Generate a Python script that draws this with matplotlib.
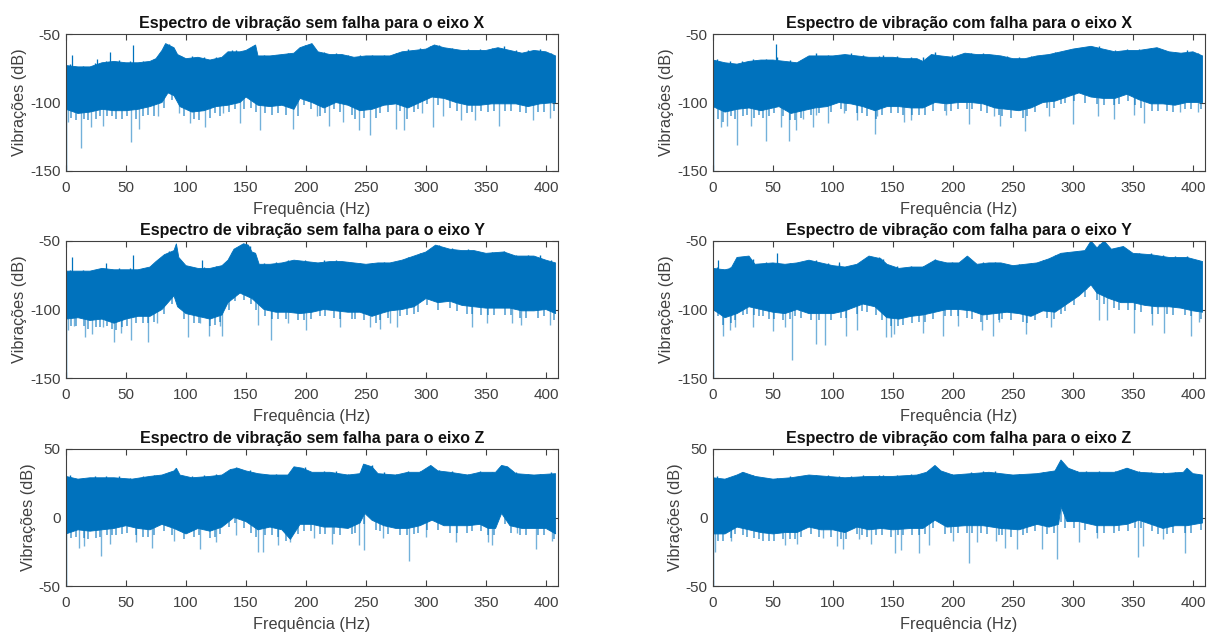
import matplotlib
matplotlib.use("Agg")
import matplotlib.pyplot as plt

plt.rcParams["font.family"] = ["Liberation Sans", "DejaVu Sans"]
plt.rcParams["axes.unicode_minus"] = False

BLUE = "#0072BD"
GREY = "#404040"

# frequencias das pequenas irregularidades nas bordas do espectro
top_fuzz_f = [3, 14, 24, 33, 44, 53, 64, 73, 86, 96, 105, 115, 125, 138, 142, 153, 165, 175, 185, 199, 215, 225, 235, 245, 255, 265, 275, 285, 295, 303, 311, 322, 335, 345, 355, 365, 375, 385, 395, 404]
low_fuzz_f = [4, 8, 15, 18, 25, 28, 34, 38, 42, 47, 51, 58, 64, 68, 73, 82, 88, 98, 107, 111, 120, 124, 128, 136, 141, 148, 154, 158, 166, 172, 177, 183, 193, 198, 204, 212, 216, 223, 228, 238, 241, 248, 258, 262, 268, 278, 284, 290, 293, 301, 310, 320, 326, 334, 338, 346, 352, 357, 366, 371, 378, 383, 393, 398, 407]

# eixo X sem falha
xs_top_f = [0, 10, 20, 30, 40, 50, 60, 70, 75, 80, 83, 90, 93, 100, 110, 120, 130, 135, 145, 150, 158, 160, 170, 180, 190, 195, 205, 210, 220, 230, 240, 250, 260, 270, 280, 290, 300, 307, 315, 330, 340, 350, 360, 370, 380, 390, 400, 408]
xs_top = [-73, -74, -74, -71, -70, -71, -71, -70, -68, -62, -57, -60, -65, -68, -67, -69, -67, -63, -63, -62, -58, -66, -66, -65, -64, -60, -57, -63, -65, -65, -67, -66, -66, -66, -63, -62, -61, -58, -60, -62, -62, -62, -60, -62, -64, -62, -63, -66]
xs_low_f = [0, 10, 20, 30, 40, 50, 60, 70, 80, 85, 90, 95, 105, 115, 125, 135, 145, 150, 160, 170, 180, 190, 195, 205, 215, 225, 235, 245, 255, 265, 275, 285, 295, 305, 315, 325, 335, 345, 355, 365, 375, 385, 395, 408]
xs_low = [-105, -108, -107, -105, -106, -106, -105, -103, -100, -93, -95, -103, -107, -106, -103, -102, -100, -96, -102, -103, -102, -105, -97, -100, -104, -100, -102, -106, -105, -102, -101, -104, -100, -96, -97, -100, -102, -102, -101, -101, -101, -103, -101, -100]
xs_dip_f = [12.4, 54.5, 253, 244, 162, 189, 306, 282, 275, 360.5, 116, 103, 219, 145, 21, 30.6, 61, 2, 403.5, 389, 341, 329, 314, 297, 231, 209, 77, 94, 131]
xs_dip = [-133, -129, -124, -120, -120, -119, -118, -120, -119, -117, -118, -115, -117, -115, -118, -117, -119, -114, -111, -113, -113, -113, -110, -108, -114, -110, -110, -108, -108]
xs_peak_f = [5, 26, 37, 56]
xs_peak = [-65, -68, -63, -58]
xs_top_fuzz = [-72, -73, -71, -70, -69, -70, -70, -68, -57, -66, -66, -67, -67, -62, -62, -60, -65, -65, -64, -58, -63, -64, -65, -65, -65, -65, -64, -61, -60, -59, -58, -60, -61, -61, -60, -59, -62, -62, -61, -64]
xs_low_fuzz = [-111, -113, -112, -113, -112, -110, -110, -110, -112, -112, -110, -112, -110, -109, -110, -104, -98, -110, -112, -113, -111, -108, -110, -107, -105, -105, -104, -107, -108, -109, -108, -109, -110, -102, -105, -110, -108, -105, -107, -109, -112, -111, -111, -108, -107, -106, -112, -107, -105, -101, -102, -104, -106, -108, -107, -106, -107, -106, -106, -106, -107, -108, -107, -107, -106]

# eixo X com falha
xc_top_f = [0, 10, 20, 30, 40, 50, 60, 70, 80, 90, 100, 110, 120, 130, 140, 150, 160, 170, 175, 182, 190, 200, 210, 220, 230, 240, 250, 260, 270, 280, 290, 300, 315, 325, 335, 345, 355, 370, 380, 390, 400, 408]
xc_top = [-69, -71, -72, -70, -69, -69, -70, -71, -66, -66, -66, -65, -66, -67, -67, -67, -68, -68, -70, -65, -66, -67, -64, -65, -65, -66, -68, -68, -66, -65, -63, -61, -59, -61, -63, -62, -62, -60, -63, -64, -63, -66]
xc_low_f = [0, 10, 20, 30, 40, 50, 55, 65, 75, 85, 95, 105, 115, 125, 135, 145, 155, 165, 175, 185, 195, 205, 215, 225, 235, 245, 255, 265, 275, 285, 295, 305, 315, 325, 335, 345, 355, 365, 375, 385, 395, 408]
xc_low = [-103, -107, -105, -104, -106, -104, -103, -108, -106, -104, -103, -100, -101, -103, -106, -103, -103, -104, -104, -100, -101, -100, -100, -101, -104, -105, -106, -104, -100, -99, -96, -93, -96, -97, -97, -94, -98, -101, -101, -102, -100, -100]
xc_dip_f = [20, 44, 63, 135, 260, 300, 213, 239, 7, 12, 32, 57, 69, 75, 83, 96, 120, 159, 165, 194, 334, 359, 351, 321, 280, 389, 404, 234, 137, 109, 86]
xc_dip = [-131, -128, -128, -123, -121, -116, -116, -117, -118, -117, -117, -118, -120, -112, -118, -115, -113, -114, -113, -109, -112, -115, -109, -110, -110, -107, -107, -110, -110, -108, -109]
xc_peak_f = [52.5]
xc_peak = [-57]
xc_top_fuzz = [-68, -70, -70, -68, -68, -67, -69, -69, -64, -65, -65, -64, -65, -66, -65, -66, -67, -67, -63, -65, -64, -64, -65, -66, -67, -66, -65, -63, -62, -60, -60, -59, -62, -61, -61, -60, -62, -63, -62, -64]
xc_low_fuzz = [-112, -114, -110, -112, -110, -109, -111, -109, -111, -110, -108, -110, -113, -113, -111, -109, -108, -107, -105, -106, -108, -108, -110, -112, -109, -108, -108, -109, -109, -109, -109, -106, -106, -106, -105, -105, -105, -106, -108, -109, -110, -111, -111, -110, -107, -104, -104, -101, -100, -99, -100, -101, -102, -102, -101, -99, -102, -104, -106, -106, -106, -107, -105, -105, -105]

# eixo Y sem falha
ys_top_f = [0, 10, 20, 30, 40, 50, 60, 70, 75, 82, 90, 92, 94, 100, 110, 120, 130, 135, 140, 148, 152, 155, 158, 161, 170, 180, 190, 200, 210, 220, 230, 240, 250, 260, 270, 280, 290, 300, 308, 320, 330, 340, 350, 365, 375, 390, 400, 408]
ys_top = [-72, -72, -72, -70, -71, -71, -71, -69, -65, -60, -57, -52, -62, -68, -70, -70, -68, -64, -56, -52, -53, -58, -59, -67, -67, -66, -64, -65, -66, -65, -65, -66, -67, -66, -66, -64, -61, -58, -53, -56, -57, -57, -59, -58, -61, -61, -64, -66]
ys_low_f = [0, 10, 20, 30, 40, 50, 60, 70, 80, 85, 90, 93, 100, 110, 120, 130, 135, 145, 155, 165, 175, 185, 195, 205, 215, 225, 235, 245, 255, 262, 270, 280, 290, 300, 310, 320, 330, 340, 350, 360, 370, 380, 390, 400, 408]
ys_low = [-107, -106, -108, -107, -110, -107, -105, -105, -100, -95, -90, -98, -103, -105, -107, -104, -95, -88, -92, -100, -102, -102, -103, -102, -100, -101, -102, -102, -105, -103, -101, -100, -98, -92, -95, -94, -97, -98, -99, -99, -99, -101, -101, -100, -103]
ys_dip_f = [40, 68, 54.5, 16, 171, 102, 119, 130, 7, 22, 31, 46, 76, 1.5, 200, 253, 262, 270, 160, 185, 228, 276, 338, 351, 379, 403, 372, 128, 112]
ys_dip = [-124, -124, -122, -120, -122, -120, -119, -119, -112, -118, -113, -117, -110, -115, -115, -113, -114, -110, -111, -110, -113, -113, -113, -110, -111, -111, -110, -112, -110]
ys_peak_f = [5, 33, 56, 113]
ys_peak = [-62, -66, -60, -64]
ys_top_fuzz = [-71, -71, -71, -70, -70, -70, -70, -67, -57, -66, -69, -69, -68, -58, -55, -54, -66, -65, -64, -64, -64, -64, -65, -66, -66, -65, -65, -62, -59, -56, -53, -55, -56, -58, -58, -57, -60, -60, -60, -64]
ys_low_fuzz = [-112, -112, -112, -114, -113, -113, -112, -114, -115, -113, -112, -110, -110, -110, -109, -103, -96, -107, -110, -110, -112, -111, -109, -100, -94, -93, -96, -100, -105, -107, -107, -107, -108, -108, -107, -105, -105, -106, -107, -107, -107, -108, -110, -108, -106, -105, -104, -103, -102, -97, -100, -99, -101, -103, -103, -104, -104, -104, -104, -104, -106, -106, -106, -105, -108]

# eixo Y com falha
yc_top_f = [0, 10, 15, 20, 30, 35, 50, 60, 70, 80, 90, 100, 110, 120, 130, 140, 145, 155, 165, 175, 185, 195, 205, 212, 220, 230, 240, 250, 260, 270, 280, 290, 300, 310, 315, 320, 326, 332, 342, 350, 365, 380, 395, 408]
yc_top = [-70, -71, -70, -62, -61, -67, -66, -67, -66, -64, -66, -68, -69, -67, -61, -63, -67, -70, -69, -69, -64, -66, -66, -61, -67, -66, -66, -68, -67, -66, -63, -59, -58, -57, -50, -55, -50, -56, -54, -59, -60, -62, -62, -65]
yc_low_f = [0, 10, 20, 30, 40, 50, 60, 70, 80, 90, 100, 110, 125, 135, 145, 155, 165, 175, 185, 195, 205, 215, 225, 235, 245, 255, 265, 275, 285, 295, 305, 315, 320, 330, 340, 350, 360, 370, 380, 390, 400, 408]
yc_low = [-100, -106, -103, -98, -100, -102, -103, -100, -103, -103, -103, -101, -96, -98, -106, -107, -105, -104, -102, -100, -100, -101, -104, -103, -102, -103, -105, -101, -102, -96, -90, -82, -88, -92, -95, -95, -97, -98, -98, -99, -101, -102]
yc_dip_f = [66, 86, 93, 111, 144, 148, 151, 8, 14, 18, 33, 50, 60, 175, 192, 233, 261, 282, 238, 322, 328, 351, 376, 398, 405, 366, 224, 204, 120]
yc_dip = [-137, -125, -126, -119, -120, -120, -118, -119, -115, -113, -113, -116, -113, -117, -119, -119, -118, -113, -109, -108, -108, -117, -117, -119, -109, -111, -115, -112, -115]
yc_peak_f = [4, 53, 105]
yc_peak = [-64, -59, -65]
yc_top_fuzz = [-69, -69, -64, -63, -65, -65, -66, -65, -64, -66, -67, -68, -64, -62, -63, -68, -68, -68, -63, -65, -65, -65, -65, -67, -67, -66, -64, -60, -58, -57, -55, -52, -55, -58, -59, -59, -60, -61, -61, -64]
yc_low_fuzz = [-105, -111, -110, -108, -104, -103, -104, -105, -105, -107, -107, -108, -107, -105, -106, -108, -108, -108, -106, -106, -103, -101, -102, -104, -108, -112, -112, -111, -110, -109, -109, -107, -105, -105, -105, -106, -107, -109, -108, -108, -107, -108, -109, -110, -108, -106, -107, -103, -101, -97, -91, -93, -96, -99, -100, -100, -100, -102, -103, -103, -103, -104, -104, -105, -107]

# eixo Z sem falha
zs_top_f = [0, 10, 20, 30, 40, 55, 70, 80, 90, 92, 95, 105, 120, 130, 137, 143, 150, 160, 170, 185, 190, 197, 205, 220, 235, 245, 248, 255, 260, 275, 285, 295, 304, 310, 320, 335, 345, 358, 363, 368, 375, 390, 408]
zs_top = [30, 28, 29, 29, 29, 28, 30, 31, 34, 36, 31, 29, 30, 31, 35, 36, 34, 32, 31, 31, 37, 36, 33, 33, 31, 32, 39, 37, 32, 31, 33, 33, 38, 34, 33, 31, 33, 33, 38, 37, 32, 31, 32]
zs_low_f = [0, 10, 20, 30, 40, 50, 60, 70, 80, 90, 100, 110, 120, 130, 140, 150, 160, 170, 180, 187, 195, 205, 215, 225, 235, 245, 249, 255, 265, 275, 285, 295, 305, 315, 325, 335, 345, 352, 358, 363, 370, 380, 390, 400, 408]
zs_low = [-12, -9, -10, -9, -8, -6, -8, -9, -5, -8, -12, -8, -10, -7, 0, -3, -9, -7, -9, -16, -5, -5, -7, -7, -8, -4, 3, -2, -6, -8, -8, -6, -2, -6, -6, -6, -5, -8, -8, 3, -6, -8, -8, -8, -12]
zs_dip_f = [29, 286, 248, 160, 164, 112, 11, 15, 72, 90, 125, 177, 187, 222, 244, 355, 392, 352, 405, 37, 58, 142, 207, 264, 300, 325, 376]
zs_dip = [-28, -32, -24, -25, -25, -23, -22, -21, -22, -17, -18, -20, -18, -19, -20, -20, -23, -18, -17, -19, -18, -13, -15, -15, -14, -18, -11]
zs_peak_f = []
zs_peak = []
zs_top_fuzz = [31, 29, 30, 30, 30, 29, 30, 31, 33, 30, 30, 31, 32, 35, 37, 35, 32, 32, 32, 37, 34, 34, 32, 33, 38, 33, 32, 34, 34, 36, 35, 34, 32, 34, 33, 37, 33, 32, 32, 33]
zs_low_fuzz = [-15, -14, -15, -16, -15, -14, -13, -13, -13, -12, -11, -13, -14, -14, -13, -10, -13, -16, -14, -13, -15, -14, -12, -7, -4, -8, -11, -14, -13, -13, -14, -17, -12, -10, -10, -12, -12, -12, -13, -12, -11, -5, -9, -10, -12, -13, -13, -12, -11, -9, -9, -11, -11, -11, -10, -10, -13, -13, -5, -11, -13, -13, -13, -13, -16]

# eixo Z com falha
zc_top_f = [0, 10, 20, 25, 35, 50, 65, 80, 95, 110, 130, 150, 170, 178, 185, 190, 200, 215, 230, 250, 270, 285, 290, 296, 305, 320, 335, 345, 355, 375, 392, 395, 400, 408]
zc_top = [29, 28, 31, 33, 30, 28, 29, 31, 30, 29, 30, 30, 31, 33, 38, 34, 31, 32, 33, 31, 32, 34, 42, 36, 33, 33, 33, 36, 33, 32, 33, 36, 32, 31]
zc_low_f = [0, 10, 20, 30, 40, 50, 60, 70, 80, 90, 100, 110, 120, 130, 140, 150, 165, 175, 185, 195, 210, 225, 240, 255, 270, 280, 288, 290, 295, 305, 320, 335, 345, 355, 365, 375, 385, 395, 408]
zc_low = [-12, -12, -7, -9, -11, -12, -11, -11, -7, -9, -9, -11, -7, -9, -8, -9, -8, -8, -2, -7, -6, -6, -8, -9, -5, -7, -5, 8, -3, -3, -6, -6, -5, -2, -5, -8, -6, -6, -4]
zc_dip_f = [213, 287, 354, 152, 157, 172, 393, 1.5, 358, 108, 103, 15, 180, 220, 274, 253, 243, 60, 70, 92, 132, 122, 200, 236, 305, 320, 375]
zc_dip = [-33, -30, -29, -26, -24, -26, -26, -25, -21, -23, -21, -17, -20, -18, -23, -23, -22, -20, -19, -15, -19, -16, -17, -17, -18, -15, -16]
zc_peak_f = []
zc_peak = []
zc_top_fuzz = [30, 29, 33, 31, 29, 29, 30, 30, 31, 31, 30, 30, 31, 31, 31, 31, 32, 32, 37, 32, 33, 34, 34, 32, 32, 32, 33, 35, 37, 34, 34, 34, 34, 36, 34, 33, 33, 33, 34, 32]
zc_low_fuzz = [-17, -17, -15, -12, -13, -14, -15, -16, -17, -17, -17, -16, -16, -16, -14, -12, -14, -14, -16, -16, -12, -13, -14, -13, -13, -14, -13, -13, -13, -13, -12, -8, -12, -11, -11, -11, -11, -11, -12, -13, -13, -14, -13, -11, -10, -12, -11, -3, -8, -8, -9, -11, -11, -11, -10, -10, -8, -8, -10, -12, -12, -11, -11, -11, -9]

titles = [
    "Espectro de vibração sem falha para o eixo X",
    "Espectro de vibração com falha para o eixo X",
    "Espectro de vibração sem falha para o eixo Y",
    "Espectro de vibração com falha para o eixo Y",
    "Espectro de vibração sem falha para o eixo Z",
    "Espectro de vibração com falha para o eixo Z",
]
series = [
    (xs_top_f, xs_top, xs_low_f, xs_low, xs_dip_f, xs_dip, xs_peak_f, xs_peak, xs_top_fuzz, xs_low_fuzz),
    (xc_top_f, xc_top, xc_low_f, xc_low, xc_dip_f, xc_dip, xc_peak_f, xc_peak, xc_top_fuzz, xc_low_fuzz),
    (ys_top_f, ys_top, ys_low_f, ys_low, ys_dip_f, ys_dip, ys_peak_f, ys_peak, ys_top_fuzz, ys_low_fuzz),
    (yc_top_f, yc_top, yc_low_f, yc_low, yc_dip_f, yc_dip, yc_peak_f, yc_peak, yc_top_fuzz, yc_low_fuzz),
    (zs_top_f, zs_top, zs_low_f, zs_low, zs_dip_f, zs_dip, zs_peak_f, zs_peak, zs_top_fuzz, zs_low_fuzz),
    (zc_top_f, zc_top, zc_low_f, zc_low, zc_dip_f, zc_dip, zc_peak_f, zc_peak, zc_top_fuzz, zc_low_fuzz),
]
y_limits = [(-150, -50), (-150, -50), (-150, -50), (-150, -50), (-50, 50), (-50, 50)]
y_ticks = [[-150, -100, -50], [-150, -100, -50], [-150, -100, -50], [-150, -100, -50], [-50, 0, 50], [-50, 0, 50]]
x_ticks = [0, 50, 100, 150, 200, 250, 300, 350, 400]

W, H = 1208, 635
lefts = [66, 713]
tops = [34, 241, 449]

fig = plt.figure(figsize=(W / 100, H / 100), dpi=100)

for i, title in enumerate(titles):
    left = lefts[i % 2]
    top = tops[i // 2]
    ax = fig.add_axes([left / W, (H - top - 137) / H, 492 / W, 137 / H])
    top_f, top_v, low_f, low_v, dip_f, dip_v, peak_f, peak_v, top_fuzz, low_fuzz = series[i]

    ax.fill(top_f + low_f[::-1], top_v + low_v[::-1], color=BLUE, lw=0.6, zorder=3)
    centre = sum(y_limits[i]) / 2 + 15
    ax.vlines(dip_f, dip_v, centre, color=BLUE, lw=1.0, alpha=0.55, zorder=2)
    ax.vlines(low_fuzz_f, low_fuzz, centre, color=BLUE, lw=1.1, alpha=0.7, zorder=2)
    ax.vlines(top_fuzz_f, centre, top_fuzz, color=BLUE, lw=1.0, zorder=2)
    ax.vlines(peak_f, centre, peak_v, color=BLUE, lw=0.9, zorder=2)
    # primeira amostra desce ate ao fundo do eixo
    ax.vlines([0.2], y_limits[i][0], centre, color=BLUE, lw=1.0, zorder=2)

    ax.set_xlim(0, 410)
    ax.set_ylim(*y_limits[i])
    ax.set_xticks(x_ticks)
    ax.set_yticks(y_ticks[i])
    ax.tick_params(direction="in", top=True, right=True, length=4, width=0.8,
                   labelsize=11, colors=GREY)
    ax.tick_params(axis="x", pad=7)
    ax.tick_params(axis="y", pad=4)
    ax.set_title(title, fontsize=11.5, fontweight="bold", color="#111111", pad=4)
    ax.set_xlabel("Frequência (Hz)", fontsize=11.7, color=GREY, labelpad=5)
    ax.set_ylabel("Vibrações (dB)", fontsize=11.7, color=GREY, labelpad=2)
    for spine in ax.spines.values():
        spine.set_edgecolor(GREY)
        spine.set_linewidth(0.8)
        spine.set_zorder(5)

fig.savefig("out.png", dpi=100)
plt.close(fig)
